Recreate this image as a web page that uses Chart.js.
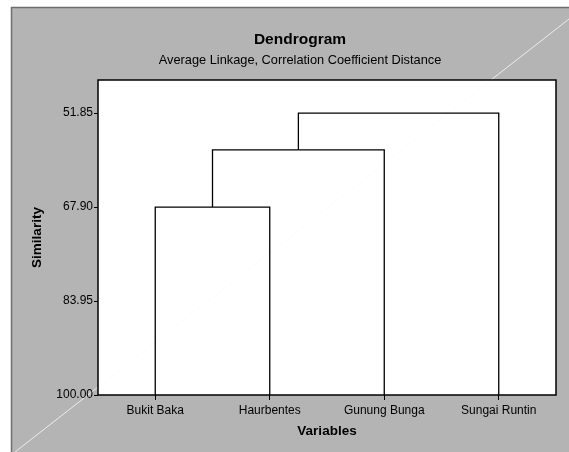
<!DOCTYPE html>
<html>
<head>
<meta charset="utf-8">
<script src="https://cdn.jsdelivr.net/npm/chart.js@4/dist/chart.umd.min.js"></script>
<style>
  html, body { margin: 0; padding: 0; background: #fff; }
  #c { display: block; }
</style>
</head>
<body>
<canvas id="c" width="569" height="452"></canvas>
<script>
// ---- data ----
const categories = ['Bukit Baka', 'Haurbentes', 'Gunung Bunga', 'Sungai Runtin'];
const yTickValues = [51.85, 67.90, 83.95, 100.00];
// linkage: cluster ids 0..3 are leaves, 4.. are merged clusters
const mergeA = [0, 4, 5];
const mergeB = [1, 2, 3];
const mergeSimilarity = [67.90, 58.15, 51.85];
const leafSimilarity = 100.00;

// ---- build dendrogram paths from linkage ----
const nodeX = categories.map((_, i) => i + 1);
const nodeY = categories.map(() => leafSimilarity);
const datasets = [];
for (let k = 0; k < mergeA.length; k++) {
  const a = mergeA[k], b = mergeB[k], h = mergeSimilarity[k];
  datasets.push({
    data: [
      { x: nodeX[a], y: nodeY[a] },
      { x: nodeX[a], y: h },
      { x: nodeX[b], y: h },
      { x: nodeX[b], y: nodeY[b] }
    ],
    borderColor: '#000',
    borderWidth: 1.3,
    pointRadius: 0,
    tension: 0,
    fill: false
  });
  nodeX.push((nodeX[a] + nodeX[b]) / 2);
  nodeY.push(h);
}

const FONT = "'Liberation Sans', Arial, sans-serif";

const bgPlugin = {
  id: 'bg',
  beforeDraw(chart) {
    const ctx = chart.ctx, W = chart.width, H = chart.height, a = chart.chartArea;
    ctx.save();
    ctx.fillStyle = '#fff';
    ctx.fillRect(0, 0, W, H);
    ctx.fillStyle = '#b4b4b4';
    ctx.fillRect(11, 7, W - 11, H - 7);
    // frame edges
    ctx.strokeStyle = '#6e6e6e';
    ctx.lineWidth = 1.5;
    ctx.beginPath();
    ctx.moveTo(11.5, H);
    ctx.lineTo(11.5, 7.5);
    ctx.lineTo(W, 7.5);
    ctx.stroke();
    // diagonal decoration
    ctx.strokeStyle = '#ececec';
    ctx.lineWidth = 1;
    ctx.beginPath();
    ctx.moveTo(15, H);
    ctx.lineTo(W, 19);
    ctx.stroke();
    // plot area
    ctx.fillStyle = '#fff';
    ctx.fillRect(a.left, a.top, a.right - a.left, a.bottom - a.top);
    ctx.beginPath();
    ctx.rect(a.left, a.top, a.right - a.left, a.bottom - a.top);
    ctx.clip();
    ctx.strokeStyle = '#fbfbfb';
    ctx.beginPath();
    ctx.moveTo(15, H);
    ctx.lineTo(W, 19);
    ctx.stroke();
    ctx.restore();
  },
  afterDraw(chart) {
    const ctx = chart.ctx, a = chart.chartArea;
    ctx.save();
    ctx.strokeStyle = '#000';
    ctx.lineWidth = 1.5;
    ctx.strokeRect(a.left, a.top, a.right - a.left, a.bottom - a.top);
    ctx.restore();
  }
};

new Chart(document.getElementById('c'), {
  type: 'line',
  data: { datasets },
  plugins: [bgPlugin],
  options: {
    responsive: false,
    animation: false,
    layout: { padding: { left: 31, right: 0, top: 0, bottom: 0 } },
    plugins: {
      legend: { display: false },
      tooltip: { enabled: false },
      title: {
        display: true,
        text: 'Dendrogram',
        color: '#000',
        font: { family: FONT, size: 15.5, weight: 'bold' },
        padding: { top: 30.7, bottom: 0 }
      },
      subtitle: {
        display: true,
        text: 'Average Linkage, Correlation Coefficient Distance',
        color: '#000',
        font: { family: FONT, size: 12.8 },
        padding: { top: 3, bottom: 12.34 }
      }
    },
    scales: {
      x: {
        type: 'linear',
        min: 0.5,
        max: 4.5,
        afterBuildTicks: s => { s.ticks = categories.map((_, i) => ({ value: i + 1 })); },
        afterFit: s => { s.height = 57; },
        ticks: {
          color: '#000',
          font: { family: FONT, size: 12 },
          padding: 3,
          maxRotation: 0,
          autoSkip: false,
          callback: v => categories[v - 1]
        },
        grid: { display: true, drawOnChartArea: false, drawTicks: true, tickLength: 5, color: '#000', lineWidth: 1 },
        border: { display: false },
        title: {
          display: true,
          text: 'Variables',
          color: '#000',
          font: { family: FONT, size: 13.5, weight: 'bold' },
          padding: { top: 0, bottom: 12.9 }
        }
      },
      y: {
        type: 'linear',
        reverse: true,
        min: 46.2,
        max: 100,
        afterBuildTicks: s => { s.ticks = yTickValues.map(v => ({ value: v })); },
        afterFit: s => { s.width = 67; },
        ticks: {
          color: '#000',
          font: { family: FONT, size: 12 },
          padding: 1,
          autoSkip: false,
          callback: v => Number(v).toFixed(2)
        },
        grid: { display: true, drawOnChartArea: false, drawTicks: true, tickLength: 4, color: '#000', lineWidth: 1 },
        border: { display: false },
        title: {
          display: true,
          text: 'Similarity',
          color: '#000',
          font: { family: FONT, size: 13.5, weight: 'bold' },
          padding: { top: -1.5, bottom: 0 }
        }
      },
      yRight: {
        type: 'linear',
        position: 'right',
        display: true,
        afterFit: s => { s.width = 13; },
        ticks: { display: false },
        grid: { display: false, drawTicks: false },
        border: { display: false }
      }
    }
  }
});
</script>
</body>
</html>
